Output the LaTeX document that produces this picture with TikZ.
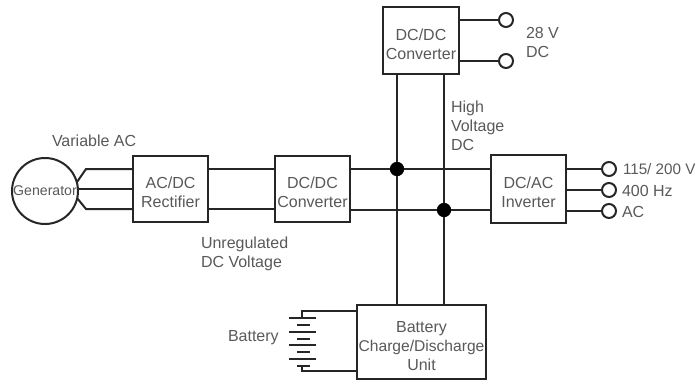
\documentclass[tikz,border=0pt]{standalone}
\usepackage{fontspec}
\setmainfont{Liberation Sans}
\newcommand{\boxtext}[1]{\raisebox{0pt}[\dimexpr\height+8.2pt\relax][\depth]{\begin{tabular}{@{}c@{}}#1\end{tabular}}}
\begin{document}
\begin{tikzpicture}[x=0.75pt,y=-0.75pt,
  every node/.style={inner sep=0pt,outer sep=0pt},
  wire/.style={line width=1.5pt,draw=black!85},
  box/.style={draw=black!85,line width=1.5pt,fill=white,minimum width=#1*0.75pt,align=center,font=\fontsize{12}{14.2}\selectfont,text=black!65},
  lbl/.style={align=left,font=\fontsize{12}{14.2}\selectfont,text=black!65},
  term/.style={circle,draw=black!85,line width=1.5pt,fill=white,minimum size=10.5pt},
  dot/.style={circle,fill=black,minimum size=10.5pt},
  plate/.style={line width=1.5pt,draw=black!85}]
\useasboundingbox (0,0) rectangle (698,382);
% helpers
\coordinate (gt) at (86,169);
\coordinate (gb) at (86,209);
\coordinate (gm) at (78,189);
\coordinate (gtb) at (77,182);
\coordinate (gbb) at (77,198);
\coordinate (batT) at (302,311);
\coordinate (batB) at (302,371);
% boxes
\node[box=66,circle,minimum size=49.5pt] (gen) at (45,191) {\fontsize{10.6}{12}\selectfont Generator};
\node[box=75,minimum height=49.5pt] (rect) at (170.5,189) {\boxtext{AC/DC\\Rectifier}};
\node[box=75,minimum height=49.5pt] (conv) at (312.5,189) {\boxtext{DC/DC\\Converter}};
\node[box=76,minimum height=50pt] (top) at (421,40.5) {\boxtext{DC/DC\\Converter}};
\node[box=75,minimum height=51pt] (inv) at (528.5,189) {\boxtext{DC/AC\\Inverter}};
\node[box=129,minimum height=55.5pt] (bat) at (421.5,342) {\boxtext{Battery\\\fontsize{11.7}{14.2}\selectfont Charge/Discharge\\Unit}};
% terminals and junctions
\node[term] (t1) at (506,20) {};
\node[term] (t2) at (506,61) {};
\node[term] (a1) at (609,169) {};
\node[term] (a2) at (609,190) {};
\node[term] (a3) at (609,211) {};
\node[dot] (d1) at (397,169) {};
\node[dot] (d2) at (444,210) {};
% connectors
\draw[wire] (gtb) -- (gt) -- (rect.west |- gt);
\draw[wire] (gm) -- (rect.west |- gm);
\draw[wire] (gbb) -- (gb) -- (rect.west |- gb);
\draw[wire] (rect.east |- gt) -- (conv.west |- gt);
\draw[wire] (rect.east |- gb) -- (conv.west |- gb);
\draw[wire] (conv.east |- d1) -- (d1) -- (inv.west |- d1);
\draw[wire] (conv.east |- d2) -- (d2) -- (inv.west |- d2);
\draw[wire] (top.south -| d1) -- (d1) -- (bat.north -| d1);
\draw[wire] (top.south -| d2) -- (d2) -- (bat.north -| d2);
\draw[wire] (top.east |- t1) -- (t1);
\draw[wire] (top.east |- t2) -- (t2);
\draw[wire] (inv.east |- a1) -- (a1);
\draw[wire] (inv.east |- a2) -- (a2);
\draw[wire] (inv.east |- a3) -- (a3);
\draw[wire] (bat.west |- batT) -- (batT) -- (302,318);
\draw[wire] (bat.west |- batB) -- (batB) -- (302,366);
% junction dots on top of the wires
\node[dot] at (d1) {};
\node[dot] at (d2) {};
% battery plates
\foreach \y in {318,332,345,359} \draw[plate] (289,\y) -- (316,\y);
\foreach \y in {325,339,352,366} \draw[plate] (297,\y) -- (310,\y);
% labels
\node[lbl,anchor=west] (l1) at (52,141) {Variable AC};
\node[lbl,anchor=west] (l2) at (201,244) {Unregulated};
\node[lbl,anchor=west] (l2b) at (201,263) {DC Voltage};
\node[lbl,anchor=west] (l3) at (451,108) {High};
\node[lbl,anchor=west] (l3b) at (451,127) {Voltage};
\node[lbl,anchor=west] (l3c) at (451,145) {DC};
\node[lbl,anchor=west] (l4) at (526,33) {28 V};
\node[lbl,anchor=west] (l4b) at (526,52) {DC};
\node[lbl,anchor=west,font=\fontsize{11.4}{14}\selectfont] (l5) at (623,169) {115/ 200 V};
\node[lbl,anchor=west] (l6) at (622,191) {400 Hz};
\node[lbl,anchor=west] (l7) at (622,212) {AC};
\node[lbl,anchor=west] (l8) at (228,338) {Battery};
\end{tikzpicture}
\end{document}
